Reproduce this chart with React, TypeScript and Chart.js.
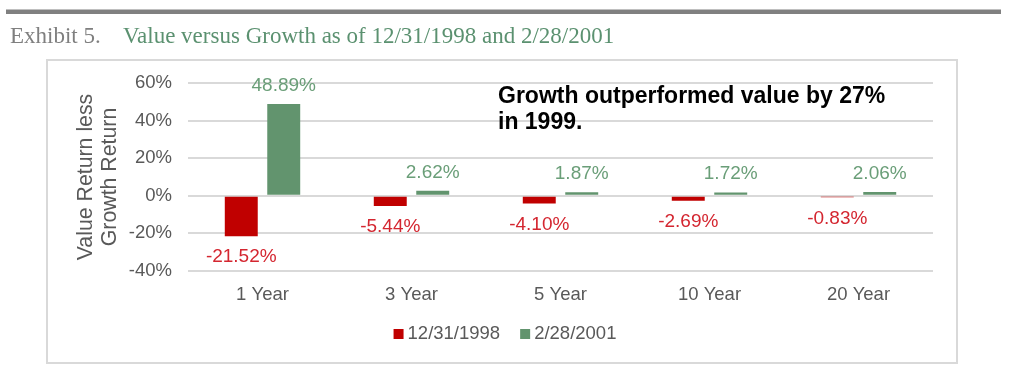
import React, { useEffect, useRef } from 'react';
import { Chart, registerables } from 'chart.js';

Chart.register(...registerables);

const categories = ['1 Year', '3 Year', '5 Year', '10 Year', '20 Year'];
const seriesNames = ['12/31/1998', '2/28/2001'];
const values1998 = [-21.52, -5.44, -4.1, -2.69, -0.83];
const values2001 = [48.89, 2.62, 1.87, 1.72, 2.06];
const yMin = -40;
const yMax = 60;
const yStep = 20;
const titleLead = 'Exhibit 5.';
const titleMain = 'Value versus Growth as of 12/31/1998 and 2/28/2001';
const yTitle = ['Value Return less', 'Growth Return'];
const noteLines = ['Growth outperformed value by 27%', 'in 1999.'];

const RED = '#c00000';
const GREEN = '#62946e';
const RED_LABEL = '#d42630';
const GREEN_LABEL = '#6a9e78';
const AXIS_TEXT = '#595959';
const SANS = '"Liberation Sans", Arial, sans-serif';
const SERIF = '"Liberation Serif", "Times New Roman", serif';

const decorPlugin = {
  id: 'decor',
  beforeDraw(chart: any) {
    const ctx = chart.ctx;
    ctx.save();
    ctx.fillStyle = '#808080';
    ctx.fillRect(6, 9.5, 995, 4.5);
    ctx.textBaseline = 'alphabetic';
    ctx.textAlign = 'left';
    ctx.font = `23px ${SERIF}`;
    ctx.fillStyle = '#7f7f7f';
    ctx.fillText(titleLead, 10, 43);
    ctx.fillStyle = '#5b9170';
    ctx.fillText(titleMain, 123, 43);
    ctx.strokeStyle = '#d9d9d9';
    ctx.lineWidth = 2;
    ctx.strokeRect(47, 60, 910, 303);
    ctx.restore();
  },
  afterDatasetsDraw(chart: any) {
    const ctx = chart.ctx;
    ctx.save();
    ctx.font = `19px ${SANS}`;
    ctx.textAlign = 'center';
    ctx.textBaseline = 'middle';
    chart.data.datasets.forEach((ds: any, di: number) => {
      const meta = chart.getDatasetMeta(di);
      meta.data.forEach((el: any, i: number) => {
        const v = ds.data[i];
        const txt = v.toFixed(2) + '%';
        ctx.fillStyle = v < 0 ? RED_LABEL : GREEN_LABEL;
        const y = v < 0 ? el.y + 21 : el.y - 18.5;
        ctx.fillText(txt, el.x, y);
      });
    });
    ctx.fillStyle = '#000000';
    ctx.textAlign = 'left';
    ctx.font = `bold 23px ${SANS}`;
    noteLines.forEach((line, i) => ctx.fillText(line, 498, 97 + i * 26));
    ctx.font = `18.5px ${SANS}`;
    const colors = [RED, GREEN];
    const box = 10;
    const gap = 4;
    const itemGap = 20;
    const widths = seriesNames.map((n) => box + gap + ctx.measureText(n).width);
    const total = widths.reduce((a, b) => a + b, 0) + itemGap * (seriesNames.length - 1);
    let x = 505 - total / 2;
    const cy = 334;
    seriesNames.forEach((n, i) => {
      ctx.fillStyle = colors[i];
      ctx.fillRect(x, cy - box / 2, box, box);
      ctx.fillStyle = AXIS_TEXT;
      ctx.fillText(n, x + box + gap, cy);
      x += widths[i] + itemGap;
    });
    ctx.restore();
  },
};

export default function App() {
  const ref = useRef<HTMLCanvasElement>(null);
  useEffect(() => {
    if (!ref.current) return;
    const chart = new Chart(ref.current, {
      type: 'bar',
      data: {
        labels: categories,
        datasets: [
          { label: seriesNames[0], data: values1998, backgroundColor: RED, categoryPercentage: 0.57, barPercentage: 0.776 },
          { label: seriesNames[1], data: values2001, backgroundColor: GREEN, categoryPercentage: 0.57, barPercentage: 0.776 },
        ],
      },
      options: {
        responsive: false,
        animation: false,
        devicePixelRatio: 1,
        layout: { padding: { left: 0, top: 83, right: 91, bottom: 0 } },
        plugins: {
          legend: { display: false },
          tooltip: { enabled: false },
        },
        scales: {
          x: {
            grid: { display: false, drawTicks: false },
            border: { display: false },
            ticks: { color: AXIS_TEXT, font: { family: SANS, size: 18.5 }, padding: 13 },
            afterFit(scale: any) {
              scale.height = 110;
            },
          },
          y: {
            min: yMin,
            max: yMax,
            grid: { color: '#d9d9d9', lineWidth: 2, drawTicks: false },
            border: { display: false },
            ticks: {
              stepSize: yStep,
              color: AXIS_TEXT,
              font: { family: SANS, size: 18.5 },
              padding: 16,
              callback: (v: any) => v + '%',
            },
            title: {
              display: true,
              text: yTitle,
              color: AXIS_TEXT,
              font: { family: SANS, size: 21.3, lineHeight: 1.13 },
              padding: { top: 74, bottom: 0 },
            },
            afterFit(scale: any) {
              scale.width = 188;
            },
          },
        },
      },
      plugins: [decorPlugin],
    });
    return () => chart.destroy();
  }, []);
  return (
    <div style={{ position: 'fixed', left: 0, top: 0, width: 1024, height: 381, background: '#fff' }}>
      <canvas ref={ref} width={1024} height={381} style={{ display: 'block', width: 1024, height: 381 }} />
    </div>
  );
}
